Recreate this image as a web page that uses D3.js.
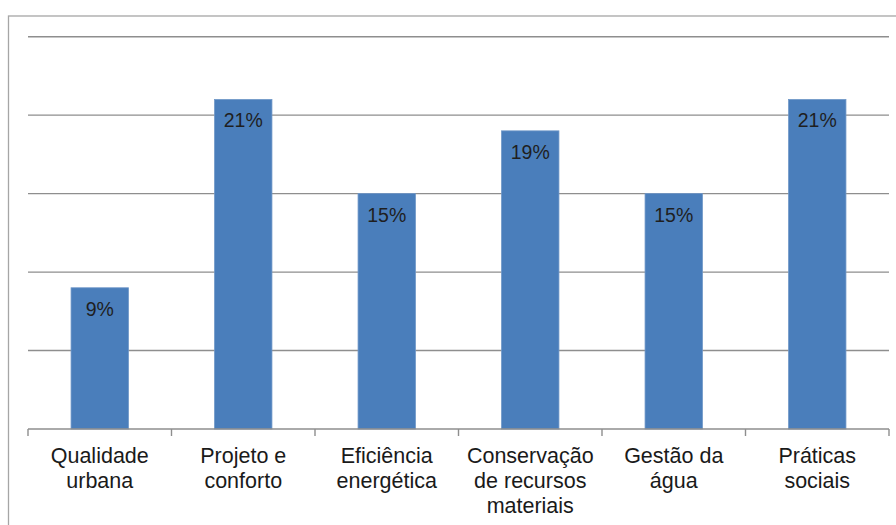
<!DOCTYPE html>
<html>
<head>
<meta charset="utf-8">
<script src="https://cdn.jsdelivr.net/npm/d3@7"></script>
<style>
  html, body { margin: 0; padding: 0; background: #ffffff; }
  svg { display: block; }
  text { font-family: "Liberation Sans", Arial, sans-serif; }
</style>
</head>
<body>
<svg id="chart" width="896" height="525"></svg>
<script>
// Categories (each entry is split into lines for the axis labels)
const categories = [
  ["Qualidade", "urbana"],
  ["Projeto e", "conforto"],
  ["Eficiência", "energética"],
  ["Conservação", "de recursos", "materiais"],
  ["Gestão da", "água"],
  ["Práticas", "sociais"]
];
// Share of each category, in percent
const values = [9, 21, 15, 19, 15, 21];
// Horizontal gridline levels, in percent
const gridTicks = [0, 5, 10, 15, 20, 25];

const svg = d3.select("#chart");
const W = 896, H = 525;
const plot = { left: 28, right: 889, top: 36.7, bottom: 429 };

// Outer frame of the chart area (runs off the right and bottom edges)
svg.append("rect")
  .attr("x", 8.5).attr("y", 16)
  .attr("width", W + 20).attr("height", H + 20)
  .attr("fill", "none")
  .attr("stroke", "#a6a6a6")
  .attr("stroke-width", 1.3);

const keys = categories.map(c => c.join(" "));
const x = d3.scaleBand()
  .domain(keys)
  .range([plot.left, plot.right])
  .paddingInner(0.6)
  .paddingOuter(0.3);

const y = d3.scaleLinear()
  .domain([0, 25])
  .range([plot.bottom, plot.top]);

// Gridlines
svg.append("g")
  .selectAll("line")
  .data(gridTicks.filter(t => t > 0))
  .join("line")
  .attr("x1", plot.left).attr("x2", plot.right)
  .attr("y1", d => y(d)).attr("y2", d => y(d))
  .attr("stroke", "#8e8e8e")
  .attr("stroke-width", 1.4);

// Bars
svg.append("g")
  .selectAll("rect")
  .data(values)
  .join("rect")
  .attr("x", (d, i) => x(keys[i]))
  .attr("y", d => y(d))
  .attr("width", x.bandwidth())
  .attr("height", d => y(0) - y(d))
  .attr("fill", "#4a7ebb")
  .attr("stroke", "#6f97c8")
  .attr("stroke-width", 0.8);

// Category axis: baseline with ticks on the category boundaries
const step = x.step();
const boundaries = d3.range(keys.length + 1).map(i => plot.left + i * step);
const axis = svg.append("g");
axis.append("line")
  .attr("x1", plot.left).attr("x2", plot.right)
  .attr("y1", y(0)).attr("y2", y(0))
  .attr("stroke", "#8e8e8e")
  .attr("stroke-width", 1.4);
axis.selectAll("line.tick")
  .data(boundaries)
  .join("line")
  .attr("class", "tick")
  .attr("x1", d => d).attr("x2", d => d)
  .attr("y1", y(0)).attr("y2", y(0) + 7)
  .attr("stroke", "#8e8e8e")
  .attr("stroke-width", 1.4);

// Category labels
const labels = svg.append("g")
  .selectAll("text")
  .data(categories)
  .join("text")
  .attr("x", (d, i) => x(keys[i]) + x.bandwidth() / 2)
  .attr("y", 463)
  .attr("text-anchor", "middle")
  .attr("font-size", 21.5)
  .attr("fill", "#1a1a1a");
labels.selectAll("tspan")
  .data(d => d)
  .join("tspan")
  .attr("x", function() { return d3.select(this.parentNode).attr("x"); })
  .attr("dy", (d, j) => j === 0 ? 0 : 25)
  .text(d => d);

// Value labels inside the top of each bar
svg.append("g")
  .selectAll("text")
  .data(values)
  .join("text")
  .attr("x", (d, i) => x(keys[i]) + x.bandwidth() / 2)
  .attr("y", d => y(d) + 28)
  .attr("text-anchor", "middle")
  .attr("font-size", 19.5)
  .attr("fill", "#1f1f1f")
  .text(d => d + "%");
</script>
</body>
</html>
